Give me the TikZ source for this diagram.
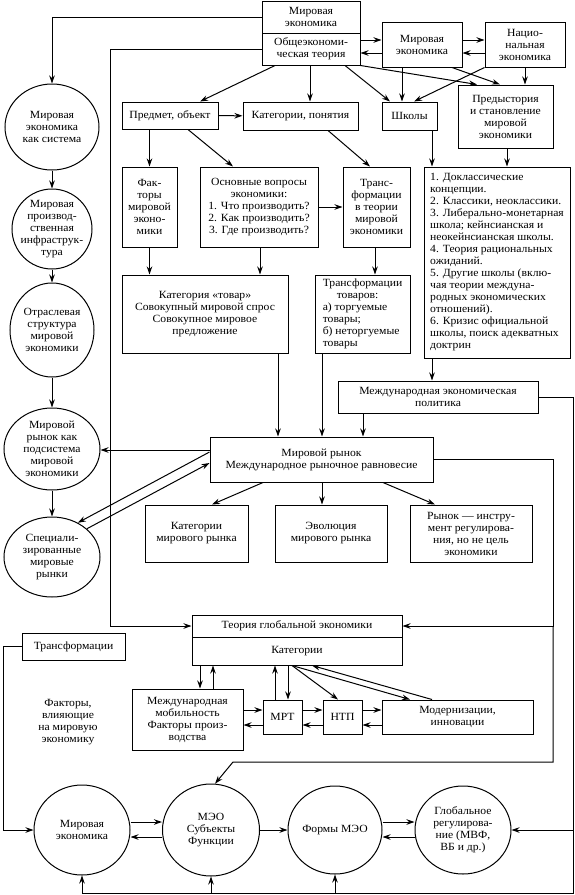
\documentclass[tikz,border=0pt]{standalone}
\usepackage{fontspec}
\setmainfont{Liberation Serif}[FakeStretch=1.06]
\usetikzlibrary{arrows.meta,shapes.geometric}

\begin{document}
\begin{tikzpicture}[x=1pt, y=-1pt, line width=1pt,
  font=\fontsize{11}{12}\selectfont,
  box/.style={draw, rectangle, inner sep=1pt, align=center},
  oval/.style={draw, ellipse, inner sep=-15pt, align=center},
  arr/.style={-{Stealth[length=8pt,width=5.5pt]}}]
  \useasboundingbox (0,0) rectangle (575,895);

  % Top block
  \node[box, minimum width=98, minimum height=32] (wecon) at (311,17) {Мировая\\экономика};
  \node[box, minimum width=98, minimum height=32] (gtheory) at (311,49) {Общеэкономи-\\ческая теория};
  \node[box, minimum width=80, minimum height=45] (wecon2) at (422,44.5) {Мировая\\экономика};
  \node[box, minimum width=80, minimum height=45] (necon) at (525,44.5) {Нацио-\\нальная\\экономика};

  % Subject, categories, schools
  \node[box, minimum width=96, minimum height=27] (subj) at (170,115.5) {Предмет, объект};
  \node[box, minimum width=115, minimum height=28] (categ) at (300.5,116) {Категории, понятия};
  \node[box, minimum width=55, minimum height=28] (schools) at (409.5,116) {Школы};
  \node[box, minimum width=95, minimum height=63] (prehist) at (505.5,116.5) {Предыстория\\и становление\\мировой\\экономики};

  % Third row
  \node[box, minimum width=55, minimum height=80] (factors) at (149.5,207) {Фак-\\торы\\мировой\\эконо-\\мики};
  \node[box, minimum width=118, minimum height=80] (questions) at (259,207) {Основные вопросы\\экономики:\\1. Что производить?\\2. Как производить?\\3. Где производить?};
  \node[box, minimum width=67, minimum height=80] (transth) at (376.5,207) {Транс-\\формации\\в теории\\мировой\\экономики};
  \node[box, minimum width=146, minimum height=191, align=left] (schlist) at (497,262.5) {1. Доклассические\\концепции.\\2. Классики, неоклассики.\\3. Либерально-монетарная\\школа; кейнсианская и\\неокейнсианская школы.\\4. Теория рациональных\\ожиданий.\\5. Другие школы (вклю-\\чая теории междуна-\\родных экономических\\отношений).\\6. Кризис официальной\\школы, поиск адекватных\\доктрин};
  \node[box, minimum width=166, minimum height=78] (tovar) at (205,314) {Категория «товар»\\Совокупный мировой спрос\\Совокупное мировое\\предложение};
  \node[box, minimum width=95, minimum height=78, align=left] (trgoods) at (362.5,314) {Трансформации\\\hspace*{14pt}товаров:\\а) торгуемые\\товары;\\б) неторгуемые\\товары};
  \node[box, minimum width=200, minimum height=32] (intpol) at (438,397) {Международная экономическая\\политика};

  % World market
  \node[box, minimum width=223, minimum height=45] (wmarket) at (321.5,459.5) {Мировой рынок\\Международное рыночное равновесие};
  \node[box, minimum width=103, minimum height=57] (mcat) at (196.5,533.5) {Категории\\мирового рынка};
  \node[box, minimum width=112, minimum height=57] (evol) at (331,533.5) {Эволюция\\мирового рынка};
  \node[box, minimum width=122, minimum height=57] (tool) at (471,533.5) {Рынок — инстру-\\мент регулирова-\\ния, но не цель\\экономики};

  % Left column
  \node[oval, minimum width=94, minimum height=86] (sysecon) at (52,127) {Мировая\\экономика\\как система};
  \node[oval, minimum width=80, minimum height=80] (infra) at (52,229) {Мировая\\производ-\\ственная\\инфраструк-\\тура};
  \node[oval, minimum width=84, minimum height=94] (branch) at (52,330) {Отраслевая\\структура\\мировой\\экономики};
  \node[oval, minimum width=96, minimum height=82] (market) at (52,449) {Мировой\\рынок как\\подсистема\\мировой\\экономики};
  \node[oval, minimum width=96, minimum height=80] (special) at (52,557) {Специали-\\зированные\\мировые\\рынки};

  % Global economy
  \node[box, minimum width=210, minimum height=22] (tglob) at (297,626) {Теория глобальной экономики};
  \node[box, minimum width=210, minimum height=28] (tcat) at (297,651) {Категории};
  \node[box, minimum width=103, minimum height=27] (transf) at (73.5,646.5) {Трансформации};
  \node[align=center] (infl) at (68,722) {Факторы,\\влияющие\\на мировую\\экономику};
  \node[box, minimum width=111, minimum height=61] (mobil) at (187.5,719.5) {Международная\\мобильность\\Факторы произ-\\водства};
  \node[box, minimum width=39, minimum height=34] (mrt) at (282.5,717) {МРТ};
  \node[box, minimum width=39, minimum height=34] (ntp) at (342.5,717) {НТП};
  \node[box, minimum width=151, minimum height=34] (modern) at (457.5,717) {Модернизации,\\инновации};

  % Bottom row
  \node[oval, minimum width=96, minimum height=90] (wecon3) at (82,830) {Мировая\\экономика};
  \node[oval, minimum width=97, minimum height=92] (meo) at (211,830) {МЭО\\Субъекты\\Функции};
  \node[oval, minimum width=94, minimum height=88] (forms) at (335,830) {Формы МЭО};
  \node[oval, minimum width=96, minimum height=88] (globreg) at (463,830) {Глобальное\\регулирова-\\ние (МВФ,\\ВБ и др.)};

  \coordinate (lrail) at (110,0);
  \coordinate (lrail2) at (3,0);
  \coordinate (rrail) at (553,0);
  \coordinate (frail) at (573,0);
  \coordinate (kink) at (233,762);
  \coordinate (bline) at (0,893);

  % Top connectors
  \draw[arr] (wecon.west) -| (sysecon.north);
  \draw[arr] (gtheory.west) -| (lrail |- tglob.west) -- (tglob.west);
  \draw[arr] (gtheory.east |- 0,40) -- (wecon2.west |- 0,40);
  \draw[arr] (wecon2.west |- 0,53) -- (gtheory.east |- 0,53);
  \draw[arr] (wecon2.east |- 0,40) -- (necon.west |- 0,40);
  \draw[arr] (necon.west |- 0,53) -- (wecon2.east |- 0,53);
  \draw[arr] (gtheory.south -| 275,0) -- (subj.north -| 200,0);
  \draw[arr] (gtheory.south -| 310,0) -- (categ.north -| 310,0);
  \draw[arr] (gtheory.south -| 345,0) -- (schools.north -| 390,0);
  \draw[arr] (gtheory.south east) -- (prehist.north -| 477,0);
  \draw[arr] (wecon2.south -| 402,0) -- (schools.north -| 402,0);
  \draw[arr] (wecon2.south -| 452,0) -- (prehist.north -| 500,0);
  \draw[arr] (necon.south -| 525,0) -- (prehist.north -| 525,0);
  \draw[arr] (necon.south west) -- (schools.north -| 414,0);

  \draw[arr] (subj) -- (categ);
  \draw[arr] (subj.south -| factors.north) -- (factors.north);
  \draw[arr] (subj.south -| 188,0) -- (questions.north -| 233,0);
  \draw[arr] (categ.south -| 328,0) -- (transth.north -| 370,0);
  \draw[arr] (schools.south -| 432,0) -- (schlist.north -| 432,0);
  \draw[arr] (prehist.south -| 507,0) -- (schlist.north -| 507,0);
  \draw[arr] (questions) -- (transth);
  \draw[arr] (factors.south) -- (tovar.north -| factors.south);
  \draw[arr] (questions.south -| 260,0) -- (tovar.north -| 260,0);
  \draw[arr] (transth.south -| 375,0) -- (trgoods.north -| 375,0);
  \draw[arr] (schlist.south -| 432,0) -- (intpol.north -| 432,0);
  \draw[arr] (tovar.south -| 278,0) -- (wmarket.north -| 278,0);
  \draw[arr] (trgoods.south -| 322,0) -- (wmarket.north -| 322,0);
  \draw[arr] (intpol.south -| 363,0) -- (wmarket.north -| 363,0);

  % Left column connectors
  \draw[arr] (sysecon.south) -- (infra.north);
  \draw[arr] (infra.south) -- (branch.north);
  \draw[arr] (branch.south) -- (market.north);
  \draw[arr] (market.south) -- (special.north);
  \draw[arr] (wmarket.west |- 0,450) -- (market.east |- 0,450);
  \draw[arr] (wmarket.west |- 0,452) -- (special.53);
  \draw[arr] (special.39) -- (wmarket.west |- 0,463);

  % World market connectors
  \draw[arr] (wmarket.south -| 263,0) -- (mcat.north -| 212,0);
  \draw[arr] (wmarket.south -| 322,0) -- (evol.north -| 322,0);
  \draw[arr] (wmarket.south -| 383,0) -- (tool.north -| 435,0);
  \draw[arr] (wmarket.east) -| (rrail |- tglob.east) -- (tglob.east);
  \draw[arr] (rrail |- tglob.east) |- (kink) -- (meo.85);
  \draw[arr] (intpol.east) -| (frail |- globreg.east) -- (globreg.east);
  \draw (frail |- globreg.east) |- (bline -| wecon3.south);
  \draw[arr] (bline -| wecon3.south) -- (wecon3.south);
  \draw[arr] (bline -| meo.south) -- (meo.south);
  \draw[arr] (bline -| forms.south) -- (forms.south);
  \draw[arr] (transf.west) -| (lrail2 |- wecon3.west) -- (wecon3.west);

  % Categories connectors
  \draw[arr] (tcat.south -| 200,0) -- (mobil.north -| 200,0);
  \draw[arr] (mobil.north -| 213,0) -- (tcat.south -| 213,0);
  \draw[arr] (mrt.north -| 275,0) -- (tcat.south -| 275,0);
  \draw[arr] (tcat.south -| 288,0) -- (mrt.north -| 288,0);
  \draw[arr] (tcat.south -| 292,0) -- (ntp.north -| 338,0);
  \draw[arr] (tcat.south -| 292,0) -- (modern.north -| 410,0);
  \draw[arr] (modern.north -| 432,0) -- (tcat.south -| 312,0);
  \draw[arr] (mobil.east |- 0,710) -- (mrt.west |- 0,710);
  \draw[arr] (mrt.west |- 0,725) -- (mobil.east |- 0,725);
  \draw[arr] (mrt.east |- 0,710) -- (ntp.west |- 0,710);
  \draw[arr] (ntp.west |- 0,725) -- (mrt.east |- 0,725);
  \draw[arr] (ntp.east |- 0,710) -- (modern.west |- 0,710);
  \draw[arr] (modern.west |- 0,725) -- (ntp.east |- 0,725);

  % Bottom row connectors
  \draw[arr] (wecon3.east |- 0,822) -- (meo.west |- 0,822);
  \draw[arr] (meo.west |- 0,837) -- (wecon3.east |- 0,837);
  \draw[arr] (meo) -- (forms);
  \draw[arr] (forms.east |- 0,822) -- (globreg.west |- 0,822);
  \draw[arr] (globreg.west |- 0,837) -- (forms.east |- 0,837);
\end{tikzpicture}
\end{document}
